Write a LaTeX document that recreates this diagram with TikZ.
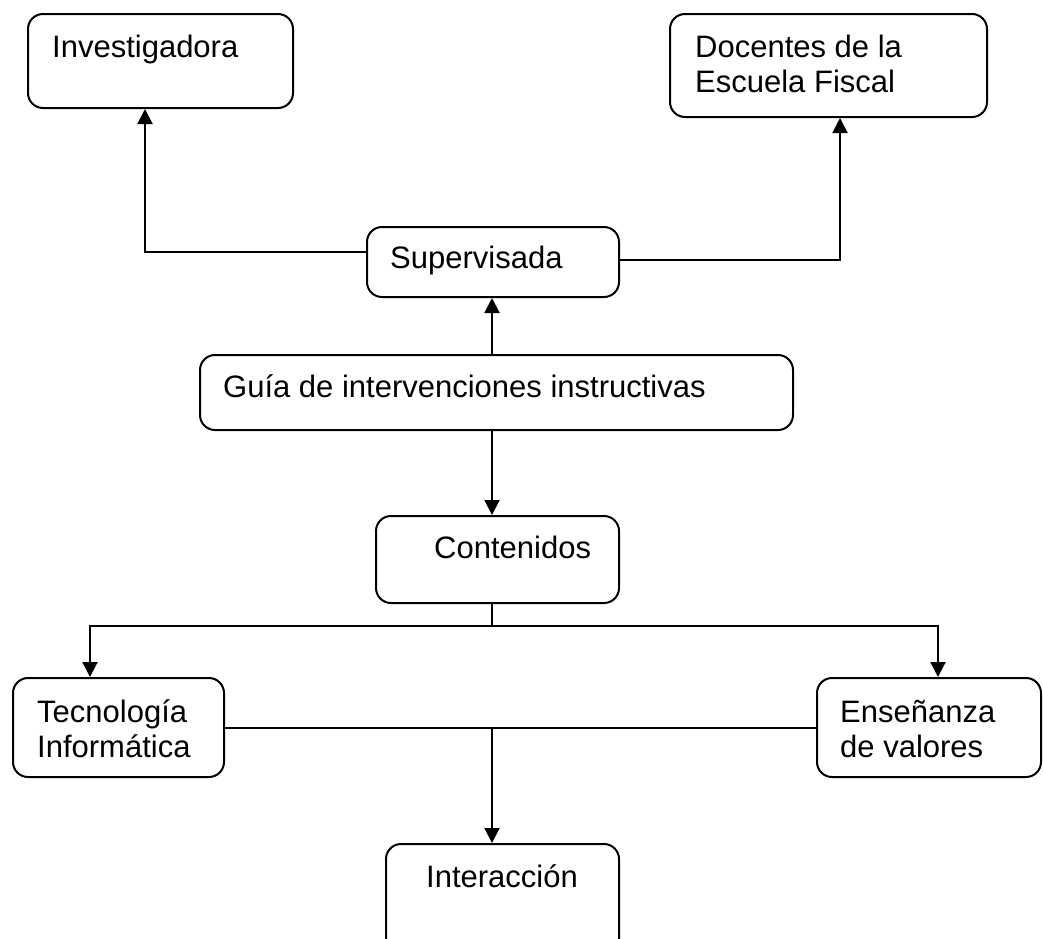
\documentclass[tikz,border=0pt]{standalone}
\usepackage{fontspec}
\setmainfont{Liberation Sans}
\usetikzlibrary{calc,arrows.meta}
\begin{document}
\begin{tikzpicture}[x=1pt,y=-1pt,
  box/.style={draw,line width=2pt,rounded corners=15pt,inner sep=0pt},
  txt/.style={anchor=base west,inner sep=0pt,font=\fontsize{31}{35}\selectfont},
  conn/.style={line width=2pt},
  arr/.style={line width=2pt,-{Triangle[length=15pt,width=15pt]}}]
\useasboundingbox (0,0) rectangle (1043,938);
\clip (0,0) rectangle (1043,938);
% boxes
\node[box,minimum width=265pt,minimum height=94pt] (inv) at (160.5,61) {};
\node[box,minimum width=317pt,minimum height=103pt] (doc) at (828.5,65.5) {};
\node[box,minimum width=252pt,minimum height=70pt] (sup) at (493,262) {};
\node[box,minimum width=593pt,minimum height=75pt] (gui) at (496.5,392.5) {};
\node[box,minimum width=243pt,minimum height=87pt] (con) at (497.5,559.5) {};
\node[box,minimum width=211pt,minimum height=99pt] (tec) at (118.5,727.5) {};
\node[box,minimum width=224pt,minimum height=99pt] (ens) at (929,727.5) {};
\node[box,minimum width=233pt,minimum height=120pt] (int) at (502.5,904) {};
% texts
\node[txt] (tinv) at (52,57) {Investigadora};
\node[txt] (tdoc1) at (695,57) {Docentes de la};
\node[txt] (tdoc2) at (695,92) {Escuela Fiscal};
\node[txt] (tsup) at (390,268) {Supervisada};
\node[txt] (tgui) at (223,397) {Guía de intervenciones instructivas};
\node[txt] (tcon) at (434,558) {Contenidos};
\node[txt] (ttec1) at (37,722) {Tecnología};
\node[txt] (ttec2) at (37,757) {Informática};
\node[txt] (tens1) at (840,722) {Enseñanza};
\node[txt] (tens2) at (840,757) {de valores};
\node[txt] (tint) at (426,887) {Interacción};
% connectors
\draw[arr] ($(sup.west)+(0,-10)$) -| ($(inv.south)+(-15.5,0)$);
\draw[arr] ($(sup.east)+(0,-2)$) -| ($(doc.south)+(11.5,0)$);
\draw[arr] ($(gui.north)+(-4.5,0)$) -- ($(sup.south)+(-1,0)$);
\draw[arr] ($(gui.south)+(-4.5,0)$) -- ($(con.north)+(-5.5,0)$);
\coordinate (br) at (492,626);
\draw[conn] ($(con.south)+(-5.5,0)$) -- (br);
\draw[arr] (br) -| ($(tec.north)+(-28.5,0)$);
\draw[arr] (br) -| ($(ens.north)+(9,0)$);
\draw[conn] (tec.east) -- (ens.west);
\coordinate (mid) at (492,727.5);
\draw[arr] (mid) -- ($(int.north)+(-10.5,0)$);
\end{tikzpicture}
\end{document}
